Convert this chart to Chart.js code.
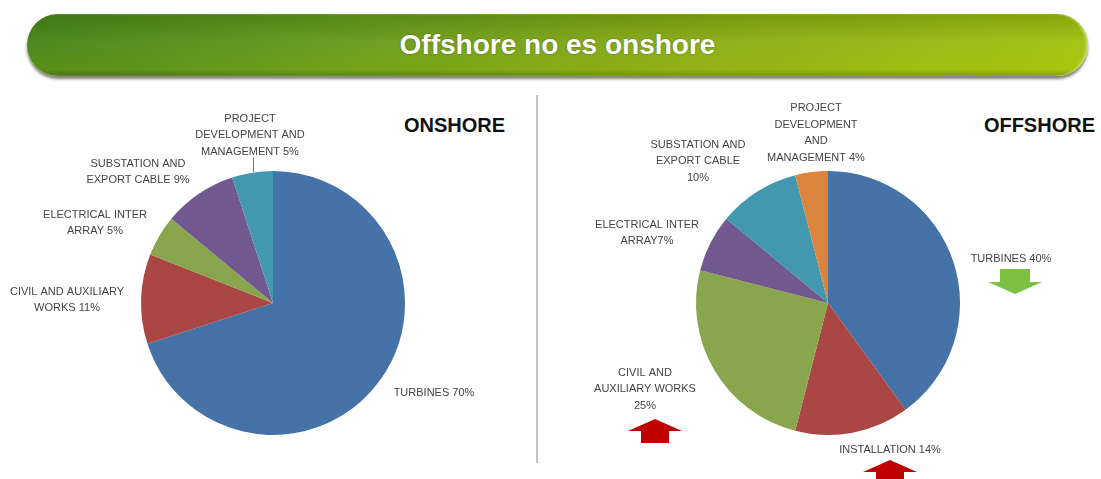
<!DOCTYPE html>
<html>
<head>
<meta charset="utf-8">
<title>Offshore no es onshore</title>
<script src="https://cdn.jsdelivr.net/npm/chart.js@4.4.1/dist/chart.umd.min.js"></script>
<style>
  html, body { margin: 0; padding: 0; background: #fff; }
  body { width: 1101px; height: 479px; position: relative; overflow: hidden; font-family: "Liberation Sans", Arial, sans-serif; }
  #banner {
    position: absolute; left: 27px; top: 14px; width: 1061px; height: 62px;
    border-radius: 31px;
    background:
      linear-gradient(180deg, rgba(20, 60, 0, 0.20) 0%, rgba(255, 255, 255, 0.04) 45%, rgba(230, 230, 0, 0.10) 90%, rgba(40, 50, 0, 0.25) 100%),
      linear-gradient(90deg, #468419 0%, #62961b 25%, #85aa15 60%, #a2c10f 100%);
    box-shadow: 0 3px 3px rgba(45, 45, 25, 0.6), inset -2px 0 2px rgba(220, 240, 140, 0.6);
    color: #fff; font-weight: bold; font-size: 28px; line-height: 62px; text-align: center;
    text-shadow: 0 0 2px rgba(0, 0, 0, 0.35);
  }
  .divider { position: absolute; left: 536px; top: 95px; width: 2px; height: 368px; background: #c4c4c4; }
  .heading { position: absolute; top: 115px; font-weight: bold; font-size: 20px; line-height: 20px; color: #111; }
  canvas { position: absolute; }
</style>
</head>
<body>
<div id="banner">Offshore no es onshore</div>
<div class="divider"></div>
<div class="heading" style="left:404px">ONSHORE</div>
<div class="heading" style="right:6px">OFFSHORE</div>
<canvas id="onshore" width="540" height="389" style="left:0;top:90px"></canvas>
<canvas id="offshore" width="561" height="389" style="left:540px;top:90px"></canvas>
<script>
// slice names, split into the lines they are printed on
const onshoreCategories = [
  ["TURBINES"],
  ["CIVIL AND AUXILIARY", "WORKS"],
  ["ELECTRICAL INTER", "ARRAY"],
  ["SUBSTATION AND", "EXPORT CABLE"],
  ["PROJECT", "DEVELOPMENT AND", "MANAGEMENT"]
];
const onshoreValues = [70, 11, 5, 9, 5];

const offshoreCategories = [
  ["TURBINES"],
  ["INSTALLATION"],
  ["CIVIL AND", "AUXILIARY WORKS"],
  ["ELECTRICAL INTER", "ARRAY"],
  ["SUBSTATION AND", "EXPORT CABLE"],
  ["PROJECT", "DEVELOPMENT", "AND", "MANAGEMENT"]
];
const offshoreValues = [40, 14, 25, 7, 10, 4];

const onshoreColors = ["#4572A7", "#AA4643", "#89A54E", "#71588F", "#4198AF"];
const offshoreColors = ["#4572A7", "#AA4643", "#89A54E", "#71588F", "#4198AF", "#DB843D"];

// label placement, relative to the pie centre; sep joins the value to the name
const onshoreLabelPos = [
  { dx: 161, dy: 90, sep: " " },
  { dx: -206, dy: -3, sep: " " },
  { dx: -178, dy: -80, sep: " " },
  { dx: -135, dy: -131, sep: " " },
  { dx: -23, dy: -168, sep: " ", leader: [-20, -145, -131] }
];
const offshoreLabelPos = [
  { dx: 183, dy: -44, sep: " ", arrow: { dx: 187, dy: -34, dir: "down", color: "#7cc242" } },
  { dx: 62, dy: 147, sep: " ", arrow: { dx: 62, dy: 157, dir: "up", color: "#c00000" } },
  { dx: -183, dy: 86, sep: "\n", arrow: { dx: -173, dy: 116, dir: "up", color: "#c00000" } },
  { dx: -181, dy: -70, sep: "" },
  { dx: -130, dy: -142, sep: "\n" },
  { dx: -12, dy: -170, sep: " " }
];

const LINE = 16.5;

function drawArrow(ctx, x, y, dir, color) {
  ctx.fillStyle = color;
  ctx.beginPath();
  if (dir == "up") {
    ctx.moveTo(x, y);
    ctx.lineTo(x + 27, y + 12);
    ctx.lineTo(x + 14, y + 12);
    ctx.lineTo(x + 14, y + 24);
    ctx.lineTo(x - 14, y + 24);
    ctx.lineTo(x - 14, y + 12);
    ctx.lineTo(x - 27, y + 12);
  } else {
    ctx.moveTo(x - 15, y);
    ctx.lineTo(x + 15, y);
    ctx.lineTo(x + 15, y + 13);
    ctx.lineTo(x + 27, y + 13);
    ctx.lineTo(x, y + 25);
    ctx.lineTo(x - 27, y + 13);
    ctx.lineTo(x - 15, y + 13);
  }
  ctx.closePath();
  ctx.fill();
}

const sliceLabels = {
  id: "sliceLabels",
  afterDatasetsDraw(chart, args, opts) {
    const ctx = chart.ctx;
    const arc = chart.getDatasetMeta(0).data[0];
    const cx = arc.x, cy = arc.y;
    const values = chart.data.datasets[0].data;
    ctx.save();
    ctx.font = '11px "Liberation Sans", Arial, sans-serif';
    ctx.textAlign = "center";
    ctx.textBaseline = "middle";
    chart.data.labels.forEach(function (name, i) {
      const pos = opts.positions[i];
      const lines = (name.join("\n") + pos.sep + values[i] + "%").split("\n");
      const top = cy + pos.dy - (lines.length - 1) * LINE / 2;
      ctx.fillStyle = "#444";
      lines.forEach(function (l, k) {
        ctx.fillText(l, cx + pos.dx, top + k * LINE);
      });
      if (pos.leader) {
        ctx.strokeStyle = "#777";
        ctx.lineWidth = 1;
        ctx.beginPath();
        ctx.moveTo(cx + pos.leader[0] + 0.5, cy + pos.leader[1]);
        ctx.lineTo(cx + pos.leader[0] + 0.5, cy + pos.leader[2]);
        ctx.stroke();
      }
      if (pos.arrow) {
        drawArrow(ctx, cx + pos.arrow.dx, cy + pos.arrow.dy, pos.arrow.dir, pos.arrow.color);
      }
    });
    ctx.restore();
  }
};

function makePie(id, labels, values, colors, positions, padding) {
  return new Chart(document.getElementById(id), {
    type: "pie",
    data: {
      labels: labels,
      datasets: [{
        data: values,
        backgroundColor: colors,
        borderWidth: 0,
        radius: 132
      }]
    },
    options: {
      responsive: false,
      animation: false,
      layout: { padding: padding },
      plugins: {
        legend: { display: false },
        tooltip: { enabled: false },
        sliceLabels: { positions: positions }
      }
    },
    plugins: [sliceLabels]
  });
}

makePie("onshore", onshoreCategories, onshoreValues, onshoreColors, onshoreLabelPos,
  { left: 6, right: 0, top: 37, bottom: 0 });
makePie("offshore", offshoreCategories, offshoreValues, offshoreColors, offshoreLabelPos,
  { left: 15, right: 0, top: 37, bottom: 0 });
</script>
</body>
</html>
